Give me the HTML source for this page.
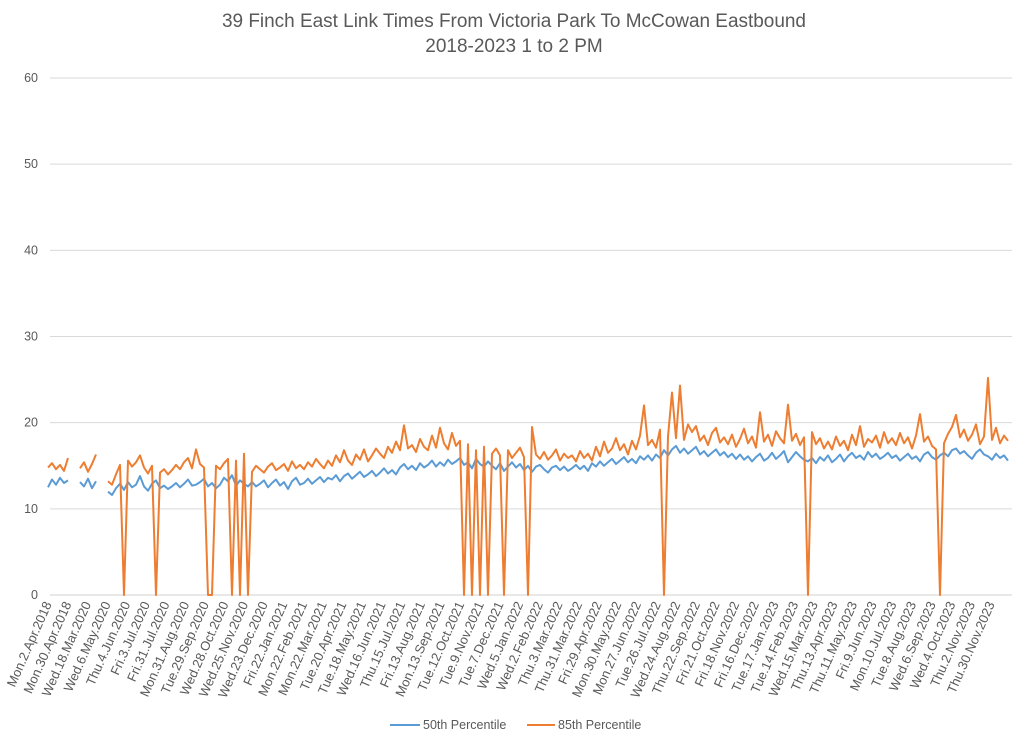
<!DOCTYPE html>
<html><head><meta charset="utf-8">
<style>
html,body{margin:0;padding:0;background:#fff;}
svg{display:block;font-family:"Liberation Sans",sans-serif;}
</style></head>
<body>
<svg id="chart" width="1024" height="741" viewBox="0 0 1024 741" xmlns="http://www.w3.org/2000/svg">
<text x="514" y="27" text-anchor="middle" font-size="19" fill="#595959" textLength="584">39 Finch East Link Times From Victoria Park To McCowan Eastbound</text>
<text x="514" y="52" text-anchor="middle" font-size="19" fill="#595959">2018-2023 1 to 2 PM</text>
<g id="grid"></g>
<g id="yticks"></g>
<g id="xticks"></g>
<g id="series"></g>
<g>
<line x1="390" y1="725" x2="420" y2="725" stroke="#5b9bd5" stroke-width="2"/>
<text x="423" y="729" font-size="12.5" fill="#595959">50th Percentile</text>
<line x1="527" y1="725" x2="555" y2="725" stroke="#ed7d31" stroke-width="2"/>
<text x="558" y="729" font-size="12.5" fill="#595959">85th Percentile</text>
</g>
</svg>
<script>
const yTicks=[0,10,20,30,40,50,60];
const xLabels=["Mon.2.Apr.2018","Mon.30.Apr.2018","Wed.18.Mar.2020","Wed.6.May.2020","Thu.4.Jun.2020","Fri.3.Jul.2020","Fri.31.Jul.2020","Mon.31.Aug.2020","Tue.29.Sep.2020","Wed.28.Oct.2020","Wed.25.Nov.2020","Wed.23.Dec.2020","Fri.22.Jan.2021","Mon.22.Feb.2021","Mon.22.Mar.2021","Tue.20.Apr.2021","Tue.18.May.2021","Wed.16.Jun.2021","Thu.15.Jul.2021","Fri.13.Aug.2021","Mon.13.Sep.2021","Tue.12.Oct.2021","Tue.9.Nov.2021","Tue.7.Dec.2021","Wed.5.Jan.2022","Wed.2.Feb.2022","Thu.3.Mar.2022","Thu.31.Mar.2022","Fri.29.Apr.2022","Mon.30.May.2022","Mon.27.Jun.2022","Tue.26.Jul.2022","Wed.24.Aug.2022","Thu.22.Sep.2022","Fri.21.Oct.2022","Fri.18.Nov.2022","Fri.16.Dec.2022","Tue.17.Jan.2023","Tue.14.Feb.2023","Wed.15.Mar.2023","Thu.13.Apr.2023","Thu.11.May.2023","Fri.9.Jun.2023","Mon.10.Jul.2023","Tue.8.Aug.2023","Wed.6.Sep.2023","Wed.4.Oct.2023","Thu.2.Nov.2023","Thu.30.Nov.2023"];
const p50=[12.5,13.4,12.8,13.6,13.0,13.3,null,null,13.1,12.6,13.5,12.4,13.2,null,null,
12.0,11.6,12.4,12.9,12.2,13.1,12.5,12.8,13.8,12.6,12.1,12.9,13.3,12.4,12.7,12.3,
12.6,13.0,12.5,12.9,13.4,12.7,12.8,13.1,13.5,12.6,13.0,12.4,12.8,13.6,13.2,13.9,12.7,13.3,12.9,12.6,
13.1,12.6,12.9,13.3,12.5,13.0,13.4,12.7,13.1,12.3,13.2,13.6,12.8,13.0,13.5,12.9,13.3,13.7,13.1,13.6,
13.4,13.9,13.2,13.8,14.1,13.5,13.9,14.3,13.7,14.0,14.4,13.8,14.2,14.7,14.1,14.5,14.0,14.8,15.2,14.6,
15.0,14.5,15.3,14.8,15.1,15.6,14.9,15.4,15.0,15.7,15.2,15.5,15.9,15.1,15.4,14.7,15.8,15.2,14.9,15.5,
15.0,14.6,15.3,14.4,14.9,15.4,14.8,15.2,14.5,15.0,14.3,14.9,15.1,14.6,14.2,14.8,15.0,14.5,14.9,14.4,
14.7,15.1,14.6,15.0,14.4,15.3,14.9,15.5,15.0,15.4,15.8,15.2,15.6,16.0,15.4,15.8,15.3,16.1,15.7,16.2,
15.6,16.3,15.9,16.8,16.2,16.9,17.3,16.5,17.0,16.4,16.8,17.2,16.3,16.7,16.1,16.5,16.9,16.2,16.6,16.0,
16.4,15.8,16.3,15.7,16.1,15.5,16.0,16.4,15.6,15.9,16.5,15.8,16.2,16.7,15.4,16.0,16.6,16.1,15.7,15.5,
15.9,15.3,16.0,15.6,16.2,15.4,15.8,16.3,15.5,16.1,16.5,15.9,16.2,15.7,16.6,16.0,16.4,15.8,16.1,16.5,
15.9,16.2,15.6,16.0,16.4,15.8,16.1,15.5,16.3,16.6,16.0,15.7,16.2,16.5,16.1,16.8,17.0,16.4,16.7,16.2,15.8,16.5,16.9,16.3,16.1,15.7,16.4,15.9,16.2,15.6];
const p85=[14.8,15.3,14.6,15.1,14.4,15.9,null,null,14.7,15.4,14.3,15.2,16.3,null,null,
13.2,12.8,14.0,15.1,0,15.6,14.9,15.4,16.2,14.8,14.1,15.0,0,14.2,14.6,14.0,
14.5,15.1,14.6,15.4,15.9,14.7,16.9,15.2,14.8,0,0,15.0,14.6,15.3,15.8,0,15.6,0,16.4,0,
14.3,15.0,14.6,14.2,14.9,15.3,14.5,14.8,15.2,14.4,15.5,14.7,15.1,14.6,15.4,14.9,15.8,15.2,14.7,15.6,
15.0,16.2,15.4,16.8,15.6,15.1,16.3,15.7,16.9,15.5,16.2,17.0,16.4,15.9,17.2,16.5,17.8,16.8,19.7,17.0,
17.4,16.6,18.1,17.2,16.8,18.5,17.1,19.4,17.6,16.9,18.8,17.3,17.9,0,17.5,0,16.8,0,17.2,0,
16.4,17.0,16.2,0,16.8,15.9,16.5,17.1,16.0,0,19.5,16.3,15.8,16.6,15.7,16.2,16.9,15.6,16.4,15.9,
16.2,15.5,16.7,15.9,16.4,15.6,17.2,16.1,17.8,16.5,17.0,18.2,16.8,17.5,16.3,17.9,16.9,18.5,22.0,17.4,
18.0,17.1,19.2,0,18.4,23.5,18.2,24.3,18.0,19.8,18.9,19.6,17.9,18.5,17.4,18.8,19.4,17.7,18.3,17.5,
18.6,17.2,18.1,19.3,17.6,18.4,17.1,21.2,17.8,18.6,17.3,19.0,18.2,17.6,22.1,17.9,18.7,17.4,18.3,0,
18.9,17.5,18.2,17.0,17.8,16.9,18.4,17.3,17.9,16.8,18.6,17.4,19.6,17.2,18.1,17.7,18.5,17.1,18.9,17.6,
18.2,17.4,18.8,17.6,18.3,17.0,18.5,21.0,17.8,18.4,17.3,16.9,0,17.6,18.7,19.5,20.9,18.3,19.2,17.9,18.6,19.8,17.5,18.4,25.2,18.0,19.4,17.6,18.5,17.9];

const NS="http://www.w3.org/2000/svg";
const X0=48,X1=1008,Y0=595,Y60=78;
function yScale(v){return Y0-(v/60)*(Y0-Y60);}
function xScale(i){return X0+i*(X1-X0)/(p50.length-1);}
function labelX(k){return 52+k*(995-52)/(xLabels.length-1);}
const grid=document.getElementById('grid'),yt=document.getElementById('yticks'),xt=document.getElementById('xticks'),ser=document.getElementById('series');
yTicks.forEach(t=>{
  const l=document.createElementNS(NS,'line');
  
  
  l.setAttribute('x1',50);l.setAttribute('x2',1012);
  l.setAttribute('y1',yScale(t));l.setAttribute('y2',yScale(t));
  l.setAttribute('stroke',t===0?'#d0d0d0':'#d9d9d9');l.setAttribute('stroke-width',1);
  grid.appendChild(l);
  const tx=document.createElementNS(NS,'text');
  
  
  tx.setAttribute('x',38);tx.setAttribute('y',yScale(t)+4);
  tx.setAttribute('text-anchor','end');tx.setAttribute('font-size','12.5');tx.setAttribute('fill','#595959');
  tx.textContent=t;yt.appendChild(tx);
});
xLabels.forEach((s,k)=>{
  const tx=document.createElementNS(NS,'text');
  
  
  const x=labelX(k),y=604;
  tx.setAttribute('x',x);tx.setAttribute('y',y);
  tx.setAttribute('text-anchor','end');tx.setAttribute('font-size','13');tx.setAttribute('fill','#595959');
  tx.setAttribute('transform','rotate(-66 '+x+' '+y+')');
  tx.textContent=s;xt.appendChild(tx);
});
function drawLine(arr,color,name){
  let d='',pen=false;
  arr.forEach((v,i)=>{
    if(v===null){pen=false;return;}
    d+=(pen?'L':'M')+xScale(i).toFixed(1)+' '+yScale(v).toFixed(1)+' ';pen=true;
  });
  const p=document.createElementNS(NS,'path');
  
  
  p.setAttribute('d',d);p.setAttribute('fill','none');p.setAttribute('stroke',color);
  p.setAttribute('stroke-width','2');p.setAttribute('stroke-linejoin','round');
  ser.appendChild(p);
}
drawLine(p50,'#5b9bd5','series-50th-percentile');
drawLine(p85,'#ed7d31','series-85th-percentile');
</script>
</body></html>
